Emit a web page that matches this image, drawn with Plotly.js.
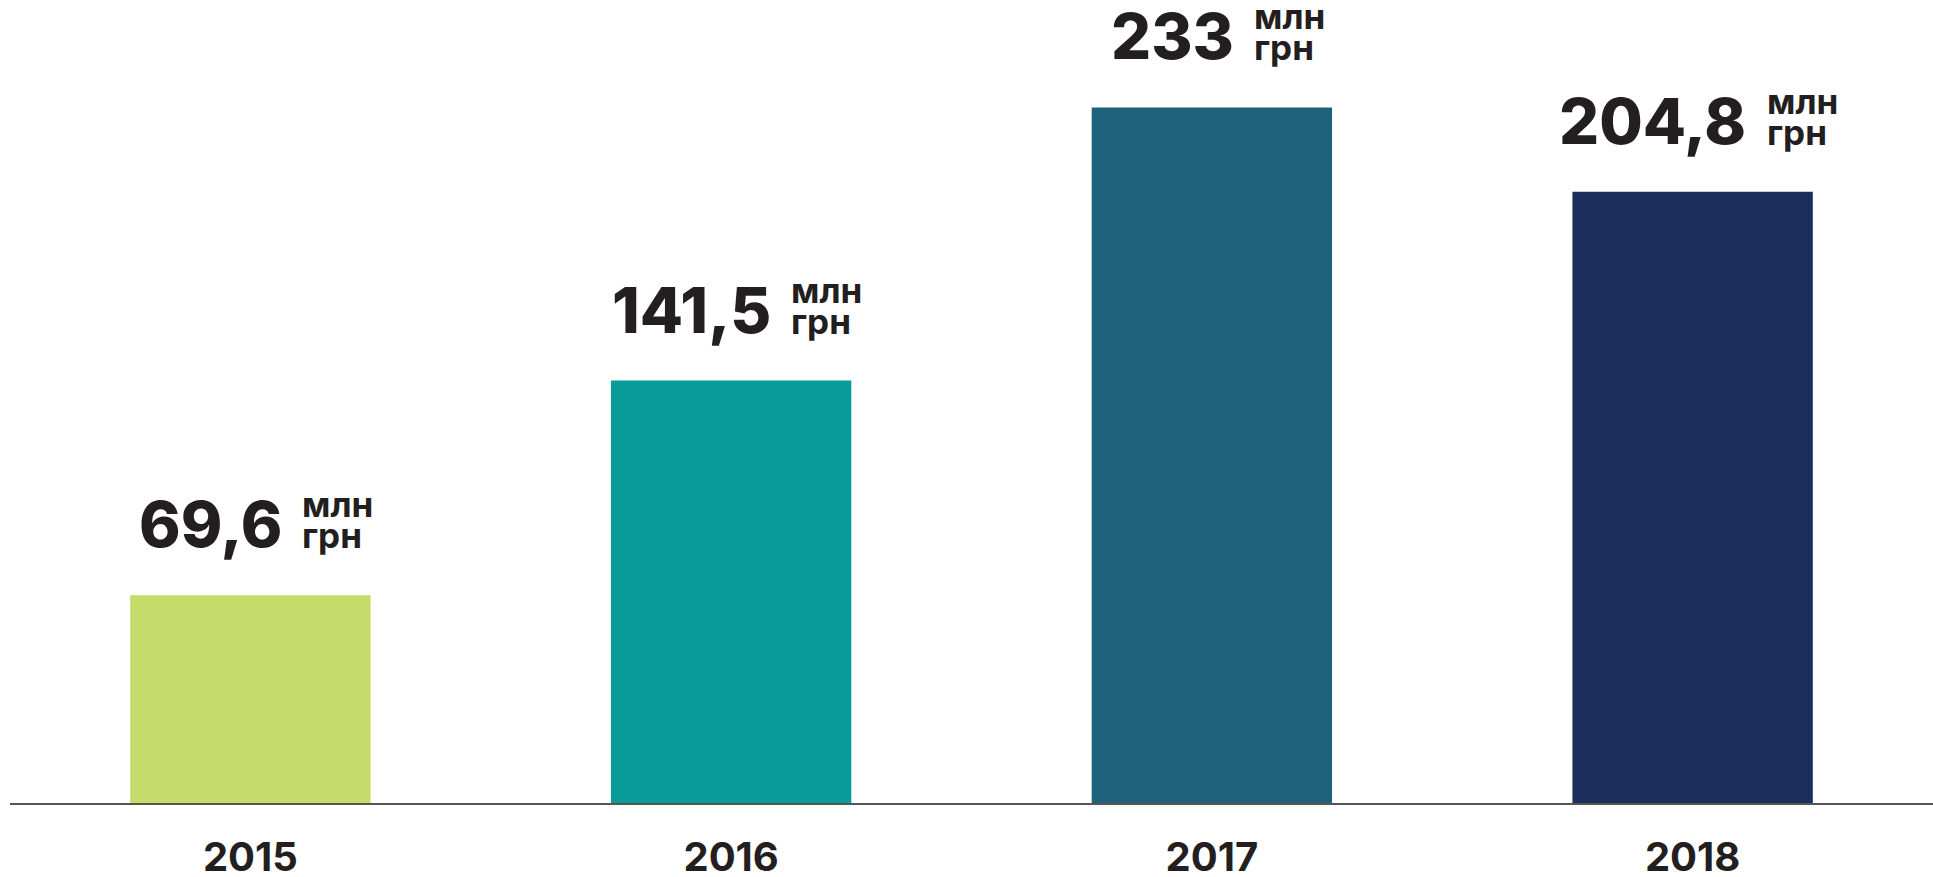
<!DOCTYPE html>
<html>
<head>
<meta charset="utf-8">
<script src="https://cdn.plot.ly/plotly-3.0.1.min.js"></script>
<style>
  html, body { margin: 0; padding: 0; background: #ffffff; }
  #chart { width: 1933px; height: 877px; }
</style>
</head>
<body>
<div id="chart"></div>
<script>
const years = ['2015', '2016', '2017', '2018'];
const values = [69.6, 141.5, 233, 204.8];
const valueLabels = ['69,6', '141,5', '233', '204,8'];
const unitTop = 'млн';
const unitBottom = 'грн';
const barColors = ['#c5dc6b', '#079c9a', '#1f617b', '#1b2f5c'];

const FONT = 'Inter, "Open Sans", sans-serif';
const TEXT = '#231f20';
const NUM_SIZE = 63, NUM_WEIGHT = 800;
const UNIT_SIZE = 35, UNIT_WEIGHT = 700;
const GAP = 20;

function measure(text, size, weight) {
  const c = document.createElement('canvas').getContext('2d');
  c.font = weight + ' ' + size + 'px Inter';
  return c.measureText(text).width;
}

const annotations = [];
years.forEach((yr, i) => {
  const nw = measure(valueLabels[i], NUM_SIZE, NUM_WEIGHT);
  const uw = Math.max(measure(unitTop, UNIT_SIZE, UNIT_WEIGHT), measure(unitBottom, UNIT_SIZE, UNIT_WEIGHT));
  const block = nw + GAP + uw;
  const start = -block / 2 + 4;
  annotations.push({
    x: i, y: values[i], xref: 'x', yref: 'y',
    text: valueLabels[i], showarrow: false,
    xanchor: 'left', yanchor: 'bottom',
    xshift: start, yshift: 31,
    font: { family: FONT, size: NUM_SIZE, weight: NUM_WEIGHT, color: TEXT }
  });
  annotations.push({
    x: i, y: values[i], xref: 'x', yref: 'y',
    text: unitTop, showarrow: false,
    xanchor: 'left', yanchor: 'bottom',
    xshift: start + nw + GAP, yshift: 68,
    font: { family: FONT, size: UNIT_SIZE, weight: UNIT_WEIGHT, color: TEXT }
  });
  annotations.push({
    x: i, y: values[i], xref: 'x', yref: 'y',
    text: unitBottom, showarrow: false,
    xanchor: 'left', yanchor: 'bottom',
    xshift: start + nw + GAP, yshift: 37,
    font: { family: FONT, size: UNIT_SIZE, weight: UNIT_WEIGHT, color: TEXT }
  });
});

const trace = {
  type: 'bar',
  x: years,
  y: values,
  width: 0.5,
  marker: { color: barColors, line: { width: 0 } },
  hoverinfo: 'skip'
};

const layout = {
  width: 1933, height: 877,
  margin: { l: 10, r: 0, t: 0, b: 74 },
  paper_bgcolor: '#ffffff', plot_bgcolor: '#ffffff',
  showlegend: false,
  xaxis: {
    type: 'category',
    range: [-0.5, 3.5],
    showline: true, linecolor: '#555555', linewidth: 2,
    showgrid: false, zeroline: false,
    ticks: '', ticklabelstandoff: 18,
    tickfont: { family: FONT, size: 40, weight: 700, color: TEXT },
    fixedrange: true
  },
  yaxis: {
    range: [0, 269],
    showticklabels: false, showline: false, ticks: '',
    showgrid: false, zeroline: false,
    fixedrange: true
  },
  annotations: annotations
};

Plotly.newPlot('chart', [trace], layout, { displayModeBar: false, staticPlot: true });
</script>
</body>
</html>
